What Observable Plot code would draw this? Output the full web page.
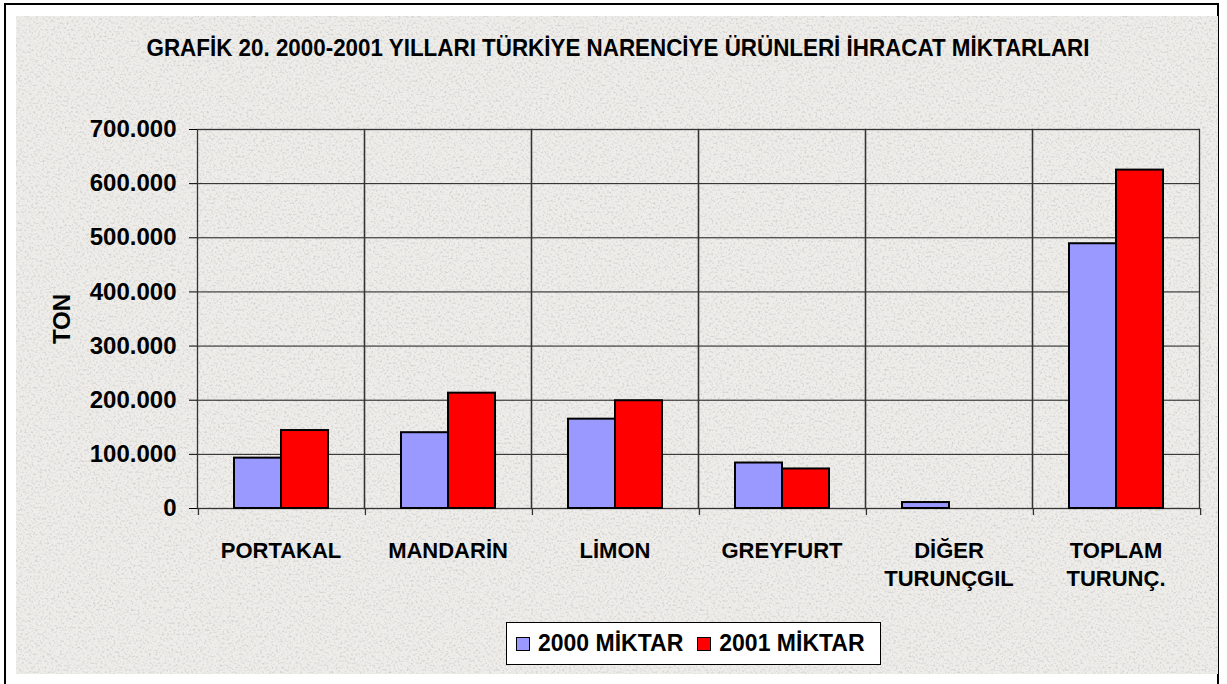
<!DOCTYPE html>
<html>
<head>
<meta charset="utf-8">
<script src="https://cdn.jsdelivr.net/npm/d3@7"></script>
<script src="https://cdn.jsdelivr.net/npm/@observablehq/plot@0.6"></script>
<style>
  html, body { margin: 0; padding: 0; background: #fff; }
  body { width: 1227px; height: 684px; position: relative; overflow: hidden; font-family: "Liberation Sans", Arial, sans-serif; }
  #border { position: absolute; left: 4px; top: 3px; width: 1215px; height: 700px; border: 2px solid #000; box-sizing: border-box; }
  #bg { position: absolute; left: 16px; top: 16px; width: 1202px; height: 658px; }
  #chart { position: absolute; left: 0; top: 0; }
  #title { position: absolute; left: 0; top: 0; }
  #legend { position: absolute; left: 506px; top: 622px; width: 375px; height: 43px; box-sizing: border-box;
            background: #fff; border: 1px solid #000; display: flex; align-items: center; padding-left: 9px;
            font-weight: bold; font-size: 23px; color: #000; }
  .sw { display: inline-block; width: 12px; height: 12px; border: 1px solid #000; margin-right: 8px; }
  .item { display: flex; align-items: center; margin-right: 14px; }
</style>
</head>
<body>
<div id="border"></div>
<svg id="bg" width="1202" height="658">
  <defs>
    <filter id="noise" x="0" y="0" width="100%" height="100%">
      <feTurbulence type="fractalNoise" baseFrequency="0.45" numOctaves="3" seed="7"/>
      <feColorMatrix type="matrix" values="0 0 0 0 0.5  0 0 0 0 0.5  0 0 0 0 0.49  -2.4 0 0 0 1.25"/>
    </filter>
  </defs>
  <rect width="1202" height="658" fill="#eeedea"/>
  <rect width="1202" height="658" filter="url(#noise)" opacity="0.65"/>
</svg>
<div id="chart"></div>
<svg id="title" width="1227" height="80">
  <text x="618" y="56" text-anchor="middle" textLength="943" lengthAdjust="spacingAndGlyphs"
        font-family="Liberation Sans, Arial, sans-serif" font-size="23" font-weight="bold" fill="#000">GRAFİK 20. 2000-2001 YILLARI TÜRKİYE NARENCİYE ÜRÜNLERİ İHRACAT MİKTARLARI</text>
</svg>
<div id="legend"></div>
<script>
const categories = ["PORTAKAL", "MANDARİN", "LİMON", "GREYFURT", "DİĞER\nTURUNÇGIL", "TOPLAM\nTURUNÇ."];
const series = ["2000 MİKTAR", "2001 MİKTAR"];
const values2000 = [93000, 140000, 165000, 84000, 11000, 489000];
const values2001 = [144000, 213000, 199000, 73000, 0, 625000];
const seriesColors = ["#9999FF", "#FF0000"];
const yTicks = [0, 100000, 200000, 300000, 400000, 500000, 600000, 700000];
const yLabel = "TON";

const data = categories.flatMap((c, i) => [
  {cat: c, series: series[0], value: values2000[i]},
  {cat: c, series: series[1], value: values2001[i]}
]);

const fmt = d => d === 0 ? "0" : d3.format(",")(d).replace(/,/g, ".");

// layout constants
const mL = 196, mR = 28, mT = 129, mB = 176;
const facetW = (1227 - mL - mR) / categories.length;
const pOuter = 0.74;
const step = facetW / (2 + 2 * pOuter);
const firstCenter = pOuter * step + step / 2;

const chart = Plot.plot({
  width: 1227,
  height: 684,
  marginLeft: mL,
  marginRight: mR,
  marginTop: mT,
  marginBottom: mB,
  style: {background: "transparent", fontFamily: "Liberation Sans, Arial, sans-serif", color: "#000"},
  fx: {domain: categories, padding: 0, axis: null, label: null},
  x: {domain: series, paddingInner: 0, paddingOuter: pOuter, axis: null, label: null},
  y: {domain: [0, 700000], axis: null, label: null},
  color: {domain: series, range: seriesColors},
  marks: [
    Plot.ruleY(yTicks, {stroke: "#1a1a1a", strokeWidth: 1}),
    Plot.frame({stroke: "#333", strokeWidth: 1.3}),
    Plot.barY(data.filter(d => d.value > 0), {fx: "cat", x: "series", y: "value", fill: "series", stroke: "#000", strokeWidth: 2}),
    Plot.ruleX(categories, {fx: d => d, x: () => series[0], y1: 0, y2: -13000, dx: -firstCenter, stroke: "#333", strokeWidth: 1.3}),
    Plot.ruleX(categories.slice(-1), {fx: d => d, x: () => series[0], y1: 0, y2: -13000, dx: facetW - firstCenter, stroke: "#333", strokeWidth: 1.3}),
    Plot.axisY({ticks: yTicks, tickSize: 8, tickPadding: 13, tickFormat: fmt, fontSize: 24, fontWeight: "bold",
                label: yLabel, labelArrow: false, labelAnchor: "center", labelOffset: 145}),
    Plot.text(categories, {fx: d => d, text: d => d, frameAnchor: "bottom", lineAnchor: "top", dy: 30,
                           fontSize: 22, fontWeight: "bold", lineHeight: 1.27, fill: "#000"})
  ]
});
document.getElementById("chart").appendChild(chart);

const legend = document.getElementById("legend");
series.forEach((s, i) => {
  const item = document.createElement("span");
  item.className = "item";
  const sw = document.createElement("span");
  sw.className = "sw";
  sw.style.background = seriesColors[i];
  item.appendChild(sw);
  item.appendChild(document.createTextNode(s));
  legend.appendChild(item);
});
</script>
</body>
</html>
